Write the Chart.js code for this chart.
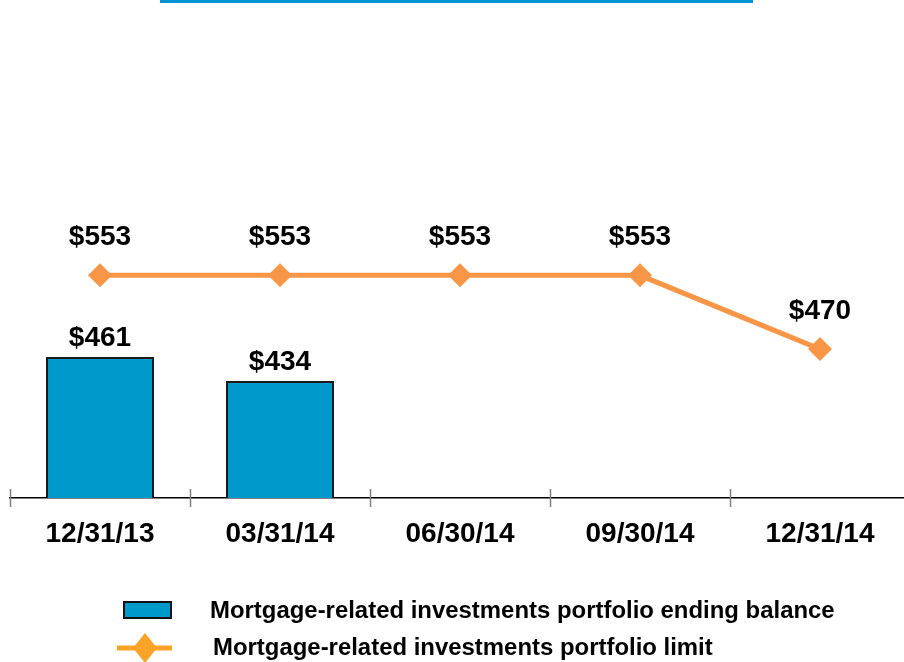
<!DOCTYPE html>
<html lang="en">
<head>
  <meta charset="UTF-8">
  <title>Mortgage-related investments portfolio</title>
  <script src="https://cdn.jsdelivr.net/npm/chart.js"></script>
  <style>
    html, body {
      margin: 0;
      padding: 0;
      width: 904px;
      height: 662px;
      overflow: hidden;
      background: #fff;
      font-family: "Liberation Sans", Arial, sans-serif;
    }
    .top-bar {
      position: absolute;
      left: 160px;
      top: 0;
      width: 593px;
      height: 3px;
      background: #0096d6;
    }
    .chart-wrap {
      position: absolute;
      left: -2px;
      top: 0;
      width: 924px;
      height: 662px;
    }
    .legend-row {
      position: absolute;
      left: 0;
      width: 904px;
      font-weight: bold;
      font-size: 23px;
      color: #000;
      white-space: nowrap;
    }
    .legend-row svg {
      position: absolute;
    }
    .legend-row span {
      position: absolute;
      top: 0;
      line-height: 30px;
      transform: scaleX(1.04);
      transform-origin: left center;
    }
  </style>
</head>
<body>
  <div class="top-bar"></div>
  <div class="chart-wrap">
    <canvas id="chart" width="924" height="662"></canvas>
  </div>

  <div class="legend-row" style="top:595px; height:30px;">
    <svg style="left:123px; top:6px;" width="49" height="18">
      <rect x="1" y="1" width="47" height="16" fill="#0099cc" stroke="#111" stroke-width="2"/>
    </svg>
    <span style="left:210px;">Mortgage-related investments portfolio ending balance</span>
  </div>
  <div class="legend-row" style="top:632px; height:30px;">
    <svg style="left:117px; top:1px;" width="56" height="30">
      <line x1="0" y1="15" x2="55" y2="15" stroke="#fba327" stroke-width="5"/>
      <polygon points="28,0 40,15 28,30 16,15" fill="#fba327"/>
    </svg>
    <span style="left:213px;">Mortgage-related investments portfolio limit</span>
  </div>

  <script>
    const categories = ['12/31/13', '03/31/14', '06/30/14', '09/30/14', '12/31/14'];
    const endingBalance = [461, 434, null, null, null];
    const portfolioLimit = [553, 553, 553, 553, 470];

    const labelFont = 'bold 28px "Liberation Sans", Arial, sans-serif';
    const yMin = 302.5;

    // value labels above bars and points
    const valueLabels = {
      id: 'valueLabels',
      afterDatasetsDraw(chart) {
        const ctx = chart.ctx;
        ctx.save();
        ctx.font = labelFont;
        ctx.fillStyle = '#000';
        ctx.textAlign = 'center';
        ctx.textBaseline = 'middle';
        chart.data.datasets.forEach((ds, i) => {
          const meta = chart.getDatasetMeta(i);
          const off = ds.type === 'line' ? 38 : 19;
          meta.data.forEach((el, j) => {
            const v = ds.data[j];
            if (v == null) return;
            ctx.fillText('$' + v, el.x, el.y - off);
          });
        });
        ctx.restore();
      }
    };

    // tick marks crossing the category axis at the boundaries
    const axisTicks = {
      id: 'axisTicks',
      afterDraw(chart) {
        const x = chart.scales.x;
        const ctx = chart.ctx;
        const half = (x.getPixelForValue(1) - x.getPixelForValue(0)) / 2;
        const y = chart.chartArea.bottom;
        ctx.save();
        ctx.strokeStyle = '#7f7f7f';
        ctx.lineWidth = 1.5;
        for (let i = 0; i <= categories.length; i++) {
          const px = Math.round(x.getPixelForValue(0) - half + i * half * 2) + 0.5;
          ctx.beginPath();
          ctx.moveTo(px, y - 9);
          ctx.lineTo(px, y + 9);
          ctx.stroke();
        }
        ctx.restore();
      }
    };

    new Chart(document.getElementById('chart'), {
      data: {
        labels: categories,
        datasets: [
          {
            type: 'line',
            label: 'Mortgage-related investments portfolio limit',
            data: portfolioLimit,
            borderColor: '#f79646',
            backgroundColor: '#f79646',
            borderWidth: 5,
            pointStyle: 'rectRot',
            pointRadius: 12,
            pointBorderWidth: 0,
            pointBackgroundColor: '#f79646',
            tension: 0,
            order: 0
          },
          {
            type: 'bar',
            label: 'Mortgage-related investments portfolio ending balance',
            data: endingBalance,
            backgroundColor: '#0099cc',
            borderColor: '#1a1a1a',
            borderWidth: 2,
            borderSkipped: 'start',
            base: yMin,
            categoryPercentage: 1,
            barPercentage: 0.6,
            order: 1
          }
        ]
      },
      options: {
        responsive: false,
        animation: false,
        layout: { padding: { top: 98, left: 6, right: 10, bottom: 0 } },
        plugins: {
          legend: { display: false },
          tooltip: { enabled: false }
        },
        scales: {
          x: {
            offset: true,
            afterFit(scale) { scale.height = 164; },
            grid: { display: false, drawTicks: false },
            border: { display: true, color: '#000', width: 1.5 },
            ticks: {
              color: '#000',
              font: { family: '"Liberation Sans", Arial, sans-serif', size: 28, weight: 'bold' },
              padding: 19,
              maxRotation: 0
            }
          },
          y: {
            display: false,
            min: yMin,
            max: yMin + 450
          }
        }
      },
      plugins: [valueLabels, axisTicks]
    });
  </script>
</body>
</html>
